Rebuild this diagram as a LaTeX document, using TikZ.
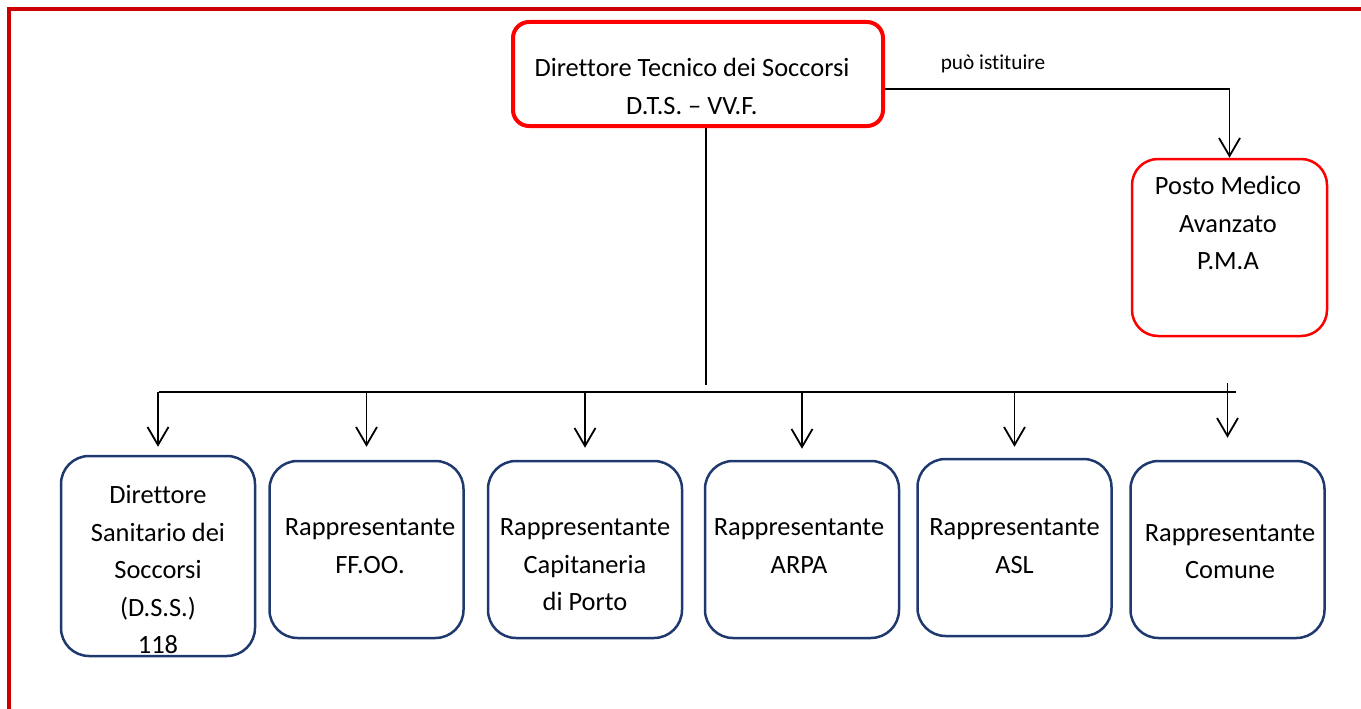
\documentclass[tikz,border=0pt]{standalone}
\usepackage{fontspec}
\setmainfont{Carlito}[Ligatures=NoCommon]
\usetikzlibrary{arrows.meta}
\definecolor{framered}{RGB}{204,0,0}
\definecolor{boxred}{RGB}{255,0,0}
\definecolor{boxblue}{RGB}{31,56,110}
\def\boxwidth{194pt}

\begin{document}
\begin{tikzpicture}[x=1pt,y=-1pt,line width=1.8pt,>={Straight Barb[length=18pt,width=21pt]},
    font=\fontsize{26.4}{37.5}\selectfont]
    \tikzstyle{box}=[rectangle,minimum width=\boxwidth,inner sep=0pt]
    \tikzstyle{chief box}=[box,draw=boxred,line width=4pt,rounded corners=16pt,minimum width=370pt,minimum height=104pt]
    \tikzstyle{pma box}=[box,draw=boxred,line width=2.5pt,rounded corners=26pt,minimum width=195pt,minimum height=177pt]
    \tikzstyle{unit box}=[box,draw=boxblue,line width=2.5pt,rounded corners=28pt]
    \tikzstyle{label text}=[align=center,inner sep=0pt]

    \useasboundingbox (0,0) rectangle (1361,709);

    % Frame (only top and left edge are visible)
    \draw[framered,line width=4pt] (1361,9) -- (9,9) -- (9,709);

    % Top of the chain and the medical post
    \node[chief box] (dts) at (698,74) {};
    \node[label text] (dts-text) at (692,86.5) {Direttore Tecnico dei Soccorsi\\D.T.S. – VV.F.};
    \node[pma box] (pma) at (1229.5,247.5) {};
    \node[label text] (pma-text) at (1228,223) {Posto Medico\\Avanzato\\P.M.A};

    % Draw the bottom row of boxes
    \foreach \name / \x / \y / \h in {dss/158/556/200, ffoo/366.5/549.5/177, cap/585/549.5/177,
                                      arpa/802/549.5/177, asl/1014.5/547.5/177, comune/1227.5/549.5/177}
        \node[unit box, minimum height=\h pt] (\name) at (\x,\y) {};

    % Texts of the bottom row
    \foreach \name / \x / \y / \txt in {dss/158/570/{Direttore\\Sanitario dei\\Soccorsi\\(D.S.S.)\\118},
                                        ffoo/370/546/{Rappresentante\\FF.OO.},
                                        cap/585/565/{Rappresentante\\Capitaneria\\di Porto},
                                        arpa/799/546/{Rappresentante\\ARPA},
                                        asl/1014.5/546/{Rappresentante\\ASL},
                                        comune/1230/551.5/{Rappresentante\\Comune}}
        \node[label text] (\name-text) at (\x,\y) {\txt};

    % Link to the medical post
    \draw[->] ([yshift=-15pt]dts.east) -| (pma.north);
    \node[font=\fontsize{21.3}{25}\selectfont] (may) at (993,64) {può istituire};

    % Trunk and bus
    \coordinate (split) at (706,385);
    \coordinate (busL) at (159,392);
    \coordinate (busR) at (1236,392);
    \draw (dts.south -| split) -- (split);
    \draw (busL) -- (busR);

    % Connect the bus with every box of the bottom row
    \foreach \name / \gap in {dss/8, ffoo/13, cap/12, arpa/11, asl/11}
        \draw[->, shorten >=\gap pt] (busL -| \name.north) -- (\name.north);
    \draw[->, shorten >=22pt] ([yshift=9pt]busR -| comune.north) -- (comune.north);
\end{tikzpicture}
\end{document}
